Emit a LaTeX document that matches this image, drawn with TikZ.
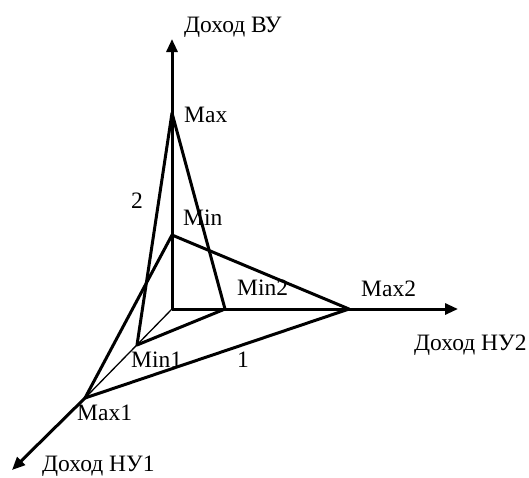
\documentclass[tikz,border=0pt]{standalone}
\usepackage{fontspec}
\setmainfont{Liberation Serif}
\usetikzlibrary{arrows.meta}
\begin{document}
\begin{tikzpicture}[x=1pt,y=-1pt,
  thickline/.style={line width=3pt,line cap=round,line join=round},
  thinline/.style={line width=1.3pt},
  axisarrow/.style={line width=3pt,-{Triangle[length=13pt,width=11pt]}},
  lbl/.style={font=\fontsize{23.5}{24}\selectfont,inner sep=0pt,anchor=base west}]
\useasboundingbox (0,0) rectangle (529,477);
% points
\coordinate (O) at (172,309);
\coordinate (Max) at (172,113);
\coordinate (Min) at (172,235);
\coordinate (Max2) at (349,309);
\coordinate (Min2) at (225,309);
\coordinate (Min1) at (137,345);
\coordinate (Max1) at (85,398);
\coordinate (Ytip) at (172,39);
\coordinate (Xtip) at (458,309);
\coordinate (Ztip) at (12,470);
% axes
\draw[axisarrow] (O) -- (Ytip);
\draw[axisarrow] (O) -- (Xtip);
\draw[thinline] (O) -- (Max1);
\draw[axisarrow] (Max1) -- (Ztip);
% triangle 1
\draw[thickline] (Max1) -- (Min) -- (Max2) -- cycle;
% triangle 2
\draw[thickline] (Max) -- (Min1) -- (Min2) -- cycle;
% labels
\node[lbl] (lY) at (184,32) {Доход ВУ};
\node[lbl] (lMax) at (184,122) {Max};
\node[lbl] (l2) at (131,208) {2};
\node[lbl] (lMin) at (183,225) {Min};
\node[lbl] (lMin2) at (237,295) {Min2};
\node[lbl] (lMax2) at (361,296) {Max2};
\node[lbl] (lX) at (414,350) {Доход НУ2};
\node[lbl] (lMin1) at (131,367) {Min1};
\node[lbl] (l1) at (237,367) {1};
\node[lbl] (lMax1) at (77,420) {Max1};
\node[lbl] (lZ) at (42,471) {Доход НУ1};
\end{tikzpicture}
\end{document}
